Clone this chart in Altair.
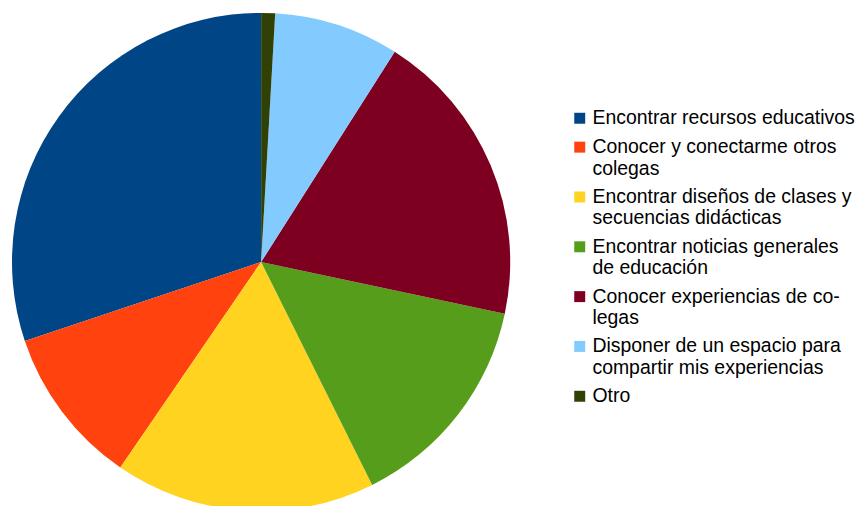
import altair as alt
import pandas as pd

categories = [
    "Encontrar recursos educativos",
    "Conocer y conectarme otros\ncolegas",
    "Encontrar diseños de clases y\nsecuencias didácticas",
    "Encontrar noticias generales\nde educación",
    "Conocer experiencias de co-\nlegas",
    "Disponer de un espacio para\ncompartir mis experiencias",
    "Otro",
]
values = [30.1, 10.3, 16.9, 14.3, 19.3, 8.1, 0.9]
colors = ["#004586", "#ff420e", "#ffd320", "#579d1c", "#7e0021", "#83caff", "#314004"]

df = pd.DataFrame({"cat": categories, "val": values, "idx": list(range(len(categories)))})

chart = alt.Chart(df).mark_arc(outerRadius=250).encode(
    theta=alt.Theta("val:Q", stack=True),
    order=alt.Order("idx:Q", sort="descending"),
    color=alt.Color(
        "cat:N",
        scale=alt.Scale(domain=categories, range=colors),
        legend=alt.Legend(
            title=None,
            orient="none",
            legendX=560,
            legendY=96,
            symbolType="square",
            symbolSize=121,
            symbolStrokeWidth=0,
            labelFont="Liberation Sans",
            labelFontSize=19.5,
            labelColor="#000000",
            labelLimit=320,
            labelExpr="split(datum.label, '\\n')",
            rowPadding=8,
            labelOffset=3,
        ),
    ),
).properties(
    width=500, height=500,
    padding={"left": 4, "top": 4, "right": 0, "bottom": 0},
).configure_view(stroke=None)

chart.save("out.html", embed_options={"renderer": "svg", "actions": False})
